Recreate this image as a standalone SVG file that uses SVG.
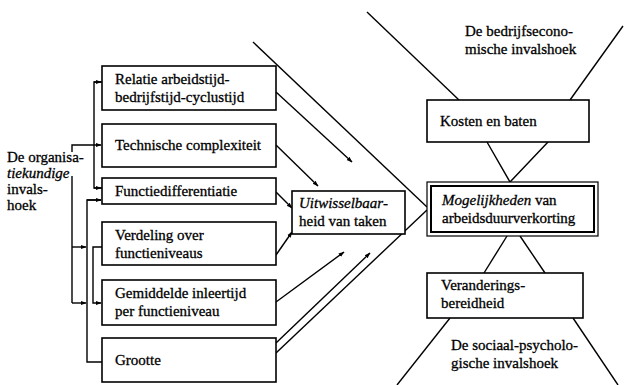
<svg xmlns="http://www.w3.org/2000/svg" width="624" height="385" viewBox="0 0 624 385">
<defs>
<style>
text{font-family:"Liberation Serif","Times New Roman",serif;font-size:15px;fill:#000;stroke:#000;stroke-width:0.3}
.it{font-style:italic}
.box{fill:#fff;stroke:#000;stroke-width:1.6}
.ln{fill:none;stroke:#000;stroke-width:1.4}
</style>
<marker id="ah" viewBox="0 0 10 10" refX="9" refY="5" markerWidth="6" markerHeight="6" orient="auto" markerUnits="userSpaceOnUse">
<path d="M0,1.5 L10,5 L0,8.5 z" fill="#000"/>
</marker>
</defs>
<rect width="624" height="385" fill="#fff"/>

<g id="connectors">
<!-- left bracket lines -->
<polyline class="ln" points="102,82 94,82 94,188 102,188"/>
<line class="ln" x1="94" y1="82" x2="101" y2="82" marker-end="url(#ah)"/>
<line class="ln" x1="94" y1="188" x2="101" y2="188" marker-end="url(#ah)"/>
<polyline class="ln" points="72,152 72,145 101,145" marker-end="url(#ah)"/>
<line class="ln" x1="72" y1="176" x2="72" y2="303"/>
<line class="ln" x1="72" y1="247" x2="86" y2="247" marker-end="url(#ah)"/>
<line class="ln" x1="72" y1="303" x2="86" y2="303" marker-end="url(#ah)"/>
<polyline class="ln" points="101,200 87,200 87,362 102,362"/>
<line class="ln" x1="87" y1="200" x2="101" y2="200" marker-end="url(#ah)"/>
<polyline class="ln" points="102,247 93,247 93,303 101,303" marker-end="url(#ah)"/>
<!-- right side of left boxes -->
<line class="ln" x1="253" y1="42" x2="427" y2="207"/>
<line class="ln" x1="276" y1="92" x2="352" y2="162" marker-end="url(#ah)"/>
<line class="ln" x1="276" y1="145" x2="318" y2="186" marker-end="url(#ah)"/>
<line class="ln" x1="276" y1="192" x2="292" y2="208" marker-end="url(#ah)"/>
<line class="ln" x1="276" y1="255" x2="292" y2="232" marker-end="url(#ah)"/>
<line class="ln" x1="276" y1="302" x2="344" y2="252" marker-end="url(#ah)"/>
<line class="ln" x1="276" y1="343" x2="370" y2="253" marker-end="url(#ah)"/>
<line class="ln" x1="276" y1="353" x2="427" y2="210"/>
<!-- right column -->
<line class="ln" x1="367" y1="12" x2="459" y2="100"/>
<line class="ln" x1="623" y1="26" x2="570" y2="100"/>
<polyline class="ln" points="487,142 510,182 548,142"/>
<line class="ln" x1="507" y1="236" x2="484" y2="273"/>
<line class="ln" x1="520" y1="236" x2="545" y2="273"/>
<line class="ln" x1="450" y1="318" x2="397" y2="385"/>
<line class="ln" x1="573" y1="318" x2="618" y2="385"/>
</g>

<g id="label-organisatiekundige">
<text x="7" y="162">De organisa-</text>
<text x="7" y="178" class="it">tiekundige</text>
<text x="7" y="194">invals-</text>
<text x="7" y="210">hoek</text>
</g>

<g id="n-relatie">
<rect class="box" x="102" y="66" width="174" height="44"/>
<text x="115" y="84">Relatie arbeidstijd-</text>
<text x="115" y="102">bedrijfstijd-cyclustijd</text>
</g>
<g id="n-technische">
<rect class="box" x="102" y="124" width="174" height="43"/>
<text x="115" y="150">Technische complexiteit</text>
</g>
<g id="n-functiedifferentiatie">
<rect class="box" x="102" y="178" width="174" height="26"/>
<text x="115" y="196">Functiedifferentiatie</text>
</g>
<g id="n-verdeling">
<rect class="box" x="102" y="222" width="174" height="43"/>
<text x="115" y="240">Verdeling over</text>
<text x="115" y="258">functieniveaus</text>
</g>
<g id="n-gemiddelde">
<rect class="box" x="102" y="280" width="174" height="45"/>
<text x="115" y="298">Gemiddelde inleertijd</text>
<text x="115" y="316">per functieniveau</text>
</g>
<g id="n-grootte">
<rect class="box" x="102" y="338" width="174" height="44"/>
<text x="115" y="365">Grootte</text>
</g>

<g id="n-uitwisselbaarheid">
<rect class="box" x="292" y="191" width="113" height="43"/>
<text x="299" y="208" class="it">Uitwisselbaar-</text>
<text x="299" y="226">heid van taken</text>
</g>

<g id="label-bedrijfseconomisch">
<text x="465" y="36">De bedrijfsecono-</text>
<text x="465" y="54">mische invalshoek</text>
</g>
<g id="n-kosten">
<rect class="box" x="427" y="100" width="162" height="42"/>
<text x="440" y="126">Kosten en baten</text>
</g>
<g id="n-mogelijkheden">
<rect x="427" y="182" width="171" height="54" fill="#fff" stroke="#000" stroke-width="1.2"/>
<rect x="431" y="186" width="163" height="46" fill="none" stroke="#000" stroke-width="2"/>
<text x="442" y="205"><tspan class="it">Mogelijkheden</tspan> van</text>
<text x="442" y="223">arbeidsduurverkorting</text>
</g>
<g id="n-veranderings">
<rect class="box" x="427" y="273" width="156" height="45"/>
<text x="441" y="290">Veranderings-</text>
<text x="441" y="308">bereidheid</text>
</g>
<g id="label-sociaalpsychologisch">
<text x="451" y="350">De sociaal-psycholo-</text>
<text x="451" y="368">gische invalshoek</text>
</g>
</svg>
